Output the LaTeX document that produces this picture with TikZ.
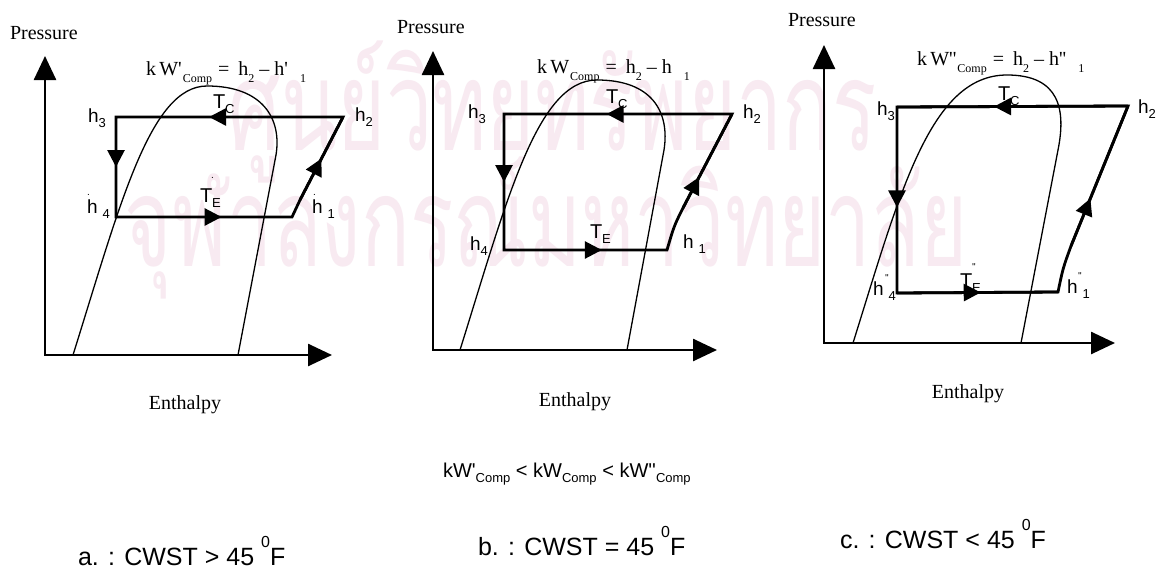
\documentclass[tikz,border=0pt]{standalone}
\usepackage{fontspec}
\setmainfont{Liberation Serif}
\setsansfont{Liberation Sans}
\newfontfamily\thaifont[Script=Thai]{Loma}
\usetikzlibrary{arrows.meta,decorations.markings}
\definecolor{wmpink}{RGB}{248,234,241}
\newcommand\ssub[1]{\raisebox{-7pt}{\fontsize{12}{12}\selectfont #1}}
\newcommand\lsub[1]{\raisebox{-5pt}{\fontsize{13}{13}\selectfont #1}}
\newcommand\msub[1]{\raisebox{-5pt}{\fontsize{13}{13}\selectfont #1}}
\newcommand\mk[3]{\makebox[0pt][l]{\hspace{#1}\raisebox{#2}{\fontsize{10}{10}\selectfont #3}}}
\newcommand\dq{\textquotesingle\textquotesingle}
\newcommand\degz{\raisebox{18pt}{\fontsize{16}{16}\selectfont 0}}
\newcommand\eqsp{\hspace{6pt}=\hspace{9pt}}
\newcommand\mi{\hspace{5pt}--\hspace{5pt}}
\begin{document}
\begin{tikzpicture}[x=1pt,y=-1pt,
  every node/.style={inner sep=0pt, outer sep=0pt},
  axis/.style={line width=2.6pt, {Triangle[length=24pt,width=22pt]}-{Triangle[length=24pt,width=22pt]}},
  dome/.style={line width=1.3pt},
  cyc/.style={line width=2.8pt, line join=miter},
  midarr/.style={postaction={decorate}, decoration={markings, mark=at position #1 with {\arrow{Triangle[length=17pt,width=17pt]}}}},
  ser/.style={font=\fontsize{20}{20}\selectfont},
  lab/.style={font=\sffamily\fontsize{19}{19}\selectfont, anchor=base west},
  tlab/.style={font=\sffamily\fontsize{20}{20}\selectfont, anchor=base west},
  big/.style={font=\sffamily\fontsize{25}{25}\selectfont, anchor=base west},
  cmpf/.style={font=\sffamily\fontsize{20}{20}\selectfont, anchor=base west},
  wm/.style={font=\thaifont\fontsize{125}{125}\selectfont, text=wmpink, anchor=base}]
\fill[white] (0,0) rectangle (1162,570);
\path[use as bounding box] (0,0) rectangle (1162,570);
% watermark
\node[wm] (wm1) at (553,150) {\scalebox{0.66}[1]{ศูนย์วิทยทรัพยากร}};
\node[wm] (wm2) at (546,266) {\scalebox{0.645}[1]{จุฬาลงกรณ์มหาวิทยาลัย}};

% ---------------- panel a ----------------
\coordinate (oa) at (45,355); \coordinate (ya) at (45,56); \coordinate (xa) at (332,355);
\draw[axis] (ya) -- (oa) -- (xa);
\draw[dome] (73,355) .. controls (120,205) and (150,86) .. (207,86) .. controls (262,86) and (282,118) .. (276,155) -- (238,355);
\coordinate (a1) at (292,217); \coordinate (a2) at (343,117); \coordinate (a3) at (116,117); \coordinate (a4) at (116,217); \coordinate (a5) at (300,200);
\draw[cyc] (a1) .. controls (296,209) .. (a5) -- (a2) -- (a3) -- (a4) -- cycle;
\draw[cyc, midarr=0.59] (a2) -- (a3);
\draw[cyc, midarr=0.5] (a3) -- (a4);
\draw[cyc, midarr=0.6] (a4) -- (a1);
\draw[cyc, midarr=0.5] (a5) -- (a2);
\node[ser, anchor=base west] (pa) at (10,39) {Pressure};
\node[ser, anchor=base] (ea) at (185,409) {Enthalpy};
\node[ser, anchor=base west] (ka) at (146,75) {k\,W\textquotesingle\hspace{1pt}\ssub{Comp}\eqsp h\ssub{2}\mi h\textquotesingle\hspace{12pt}\ssub{1}};
\node[lab] (h3a) at (88,122) {h\lsub{3}};
\node[lab] (h2a) at (355,121) {h\lsub{2}};
\node[lab] (h4a) at (87,213) {\mk{0pt}{18pt}{.}h\hspace{5pt}\lsub{4}};
\node[lab] (h1a) at (312,213) {\mk{1pt}{18pt}{.}h\hspace{5pt}\lsub{1}};
\node[tlab] (tca) at (213,108) {T\lsub{C}};
\node[tlab] (tea) at (200,202) {\mk{11pt}{24pt}{.}T\lsub{E}};

% ---------------- panel b ----------------
\coordinate (ob) at (433,350); \coordinate (yb) at (433,51); \coordinate (xb) at (717,350);
\draw[axis] (yb) -- (ob) -- (xb);
\draw[dome] (460,350) .. controls (507,200) and (537,80) .. (597,80) .. controls (652,80) and (670,112) .. (664,150) -- (627,350);
\coordinate (b1) at (667,250); \coordinate (b2) at (732,114); \coordinate (b3) at (504,114); \coordinate (b4) at (504,250); \coordinate (b5) at (683,208);
\draw[cyc] (b1) .. controls (674,226) .. (b5) -- (b2) -- (b3) -- (b4) -- cycle;
\draw[cyc, midarr=0.55] (b2) -- (b3);
\draw[cyc, midarr=0.5] (b3) -- (b4);
\draw[cyc, midarr=0.6] (b4) -- (b1);
\draw[cyc, midarr=0.33] (b5) -- (b2);
\node[ser, anchor=base west] (pb) at (397,33) {Pressure};
\node[ser, anchor=base] (eb) at (575,406) {Enthalpy};
\node[ser, anchor=base west] (kb) at (537,73) {k\,W\hspace{1pt}\ssub{Comp}\eqsp h\ssub{2}\mi h\hspace{12pt}\ssub{1}};
\node[lab] (h3b) at (468,118) {h\lsub{3}};
\node[lab] (h2b) at (743,118) {h\lsub{2}};
\node[lab] (h4b) at (470,250) {h\lsub{4}};
\node[lab] (h1b) at (683,248) {h\hspace{5pt}\lsub{1}};
\node[tlab] (tcb) at (606,103) {T\lsub{C}};
\node[tlab] (teb) at (590,238) {T\lsub{E}};

% ---------------- panel c ----------------
\coordinate (oc) at (824,343); \coordinate (yc) at (824,45); \coordinate (xc) at (1115,343);
\draw[axis] (yc) -- (oc) -- (xc);
\draw[dome] (853,343) .. controls (900,193) and (930,75) .. (1007,75) .. controls (1060,75) and (1066,110) .. (1058,150) -- (1021,343);
\coordinate (c1) at (1058,292); \coordinate (c2) at (1128,106); \coordinate (c3) at (897,107); \coordinate (c4) at (897,293); \coordinate (c5) at (1071,246);
\draw[cyc] (c1) .. controls (1063,268) .. (c5) -- (c2) -- (c3) -- (c4) -- cycle;
\draw[cyc, midarr=0.58] (c2) -- (c3);
\draw[cyc, midarr=0.54] (c3) -- (c4);
\draw[cyc, midarr=0.52] (c4) -- (c1);
\draw[cyc, midarr=0.34] (c5) -- (c2);
\node[ser, anchor=base west] (pc) at (788,27) {Pressure};
\node[ser, anchor=base] (ec) at (968,398) {Enthalpy};
\node[ser, anchor=base west] (kc) at (917,65) {k\,W\dq\hspace{1pt}\ssub{Comp}\eqsp h\ssub{2}\mi h\dq\hspace{12pt}\ssub{1}};
\node[lab] (h3c) at (877,115) {h\lsub{3}};
\node[lab] (h2c) at (1138,113) {h\lsub{2}};
\node[lab] (h4c) at (873,295) {\mk{12pt}{14pt}{\dq}h\hspace{5pt}\lsub{4}};
\node[lab] (h1c) at (1067,293) {\mk{11pt}{14pt}{\dq}h\hspace{5pt}\lsub{1}};
\node[tlab] (tcc) at (998,100) {T\lsub{C}};
\node[tlab] (tec) at (960,287) {\mk{12pt}{17pt}{\dq}T\lsub{E}};

% ---------------- bottom texts ----------------
\node[cmpf] (cmp) at (443,477) {kW\textquotesingle\msub{Comp} {<} kW\msub{Comp} {<} kW\dq\msub{Comp}};
\node[big] (la) at (78,565) {a. : CWST > 45 \degz F};
\node[big] (lb) at (478,555) {b. : CWST = 45 \degz F};
\node[big] (lc) at (840,548) {c. : CWST < 45 \degz F};
\end{tikzpicture}
\end{document}
